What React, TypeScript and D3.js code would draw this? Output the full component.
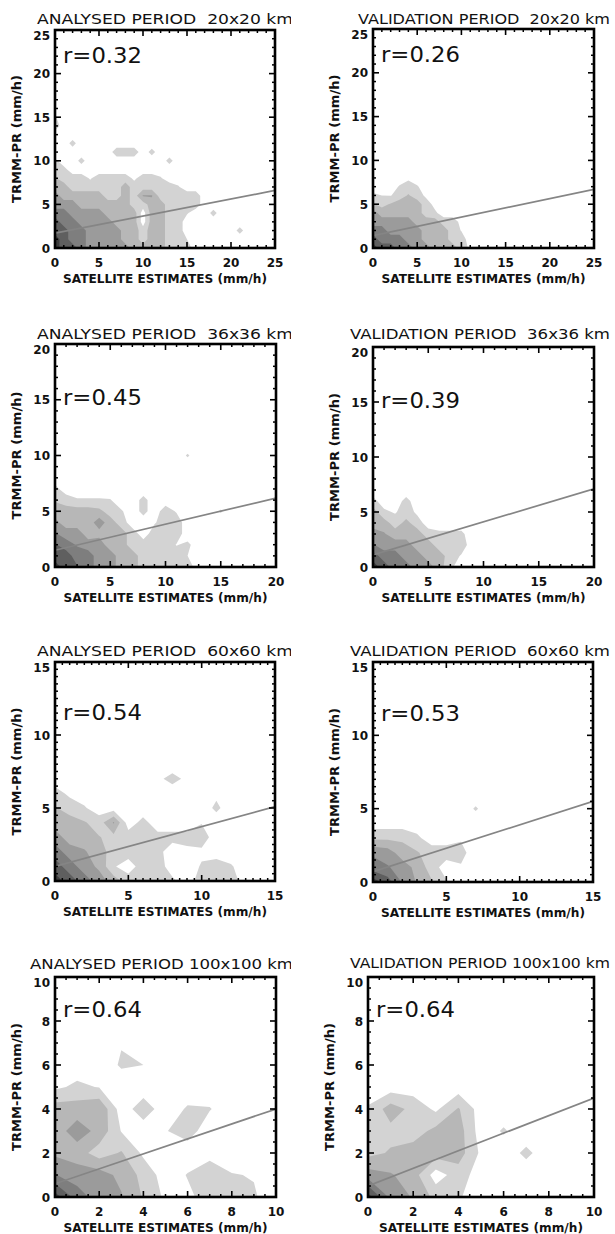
import React from "react";
import * as d3 from "d3";

// ---------- data ----------
const titles = [
  "ANALYSED PERIOD  20x20 km",
  "VALIDATION PERIOD  20x20 km",
  "ANALYSED PERIOD  36x36 km",
  "VALIDATION PERIOD  36x36 km",
  "ANALYSED PERIOD  60x60 km",
  "VALIDATION PERIOD  60x60 km",
  "ANALYSED PERIOD 100x100 km",
  "VALIDATION PERIOD 100x100 km",
];
const rValues = ["0.32", "0.26", "0.45", "0.39", "0.54", "0.53", "0.64", "0.64"];
const axisMax = [25, 25, 20, 20, 15, 15, 10, 10];
const majorStep = [5, 5, 5, 5, 5, 5, 2, 2];
const minorStep = [1, 1, 1, 1, 0.5, 0.5, 0.5, 0.5];
const intercepts = [1.7, 1.4, 1.5, 1.1, 1.0, 0.7, 0.6, 0.5];
const slopes = [0.196, 0.212, 0.234, 0.3, 0.273, 0.32, 0.34, 0.4];
const rLabelY = [21.2, 21.2, 14.5, 14.5, 11, 11, 8.2, 8.2];
const xLabel = "SATELLITE ESTIMATES (mm/h)";
const yLabel = "TRMM-PR (mm/h)";
const thresholds = [0.5, 1.5, 2.5, 3.5, 4.5, 5.5];

// density grids (1 mm/h bins), rows listed from top (highest y) down to y = 0
const grid1 = [
  [0.6],
  [1],
  [],
  [0, 0, 0.8],
  [0, 0, 0, 0, 0, 0, 0, 1, 1, 1, 0, 0.8],
  [0.7, 0, 0, 0.8, 0, 0, 0, 0, 0, 0, 0, 0, 0, 0.8],
  [1, 0.8],
  [1.6, 1, 1, 1, 0.4, 1, 1, 1, 1, 0.3, 1, 1, 0.6],
  [2, 2, 1, 1, 1, 1, 1, 1, 2, 1, 1, 1, 1, 1, 0.6],
  [3, 2, 2, 2, 2, 2, 1, 1, 2, 1, 2.6, 2.6, 1, 1, 1, 1, 1],
  [3, 3, 3, 2, 2, 2, 2, 2, 2, 1, 1, 2, 2, 1, 1, 1, 1],
  [4, 4, 3, 3, 3, 3, 2, 2, 2, 2, 0, 2, 2, 1, 1, 0.6, 0, 0, 0.8],
  [5, 4, 4, 3, 3, 3, 3, 2, 2, 2, 0, 2, 2, 1, 1],
  [5, 5, 4, 4, 3, 3, 3, 3, 2, 2, 1, 2, 2, 1, 1, 0, 0, 0, 0, 0, 0, 0.8],
  [6, 5, 4, 4, 3, 3, 3, 3, 2, 2, 1, 2, 2, 1, 1, 0.5],
  [6, 5, 5, 4, 3, 3, 3, 3, 3, 2, 2, 2, 2, 1, 1, 1],
];
const grid2 = [
  [0, 0, 0, 0, 0.3],
  [0, 0, 0, 0.6, 1, 0.6],
  [0.7, 0.5, 0.45, 1, 1.6, 1, 0.3],
  [1.6, 1.2, 1.6, 2, 2, 2, 1, 0.2],
  [3, 2, 2, 2, 2, 2, 1, 0.7],
  [3, 3, 3, 3, 3, 2, 2, 2, 1, 1, 0.2],
  [4, 4, 3, 3, 3, 3, 2, 2, 2, 1, 0.45],
  [5, 4, 4, 4, 3, 3, 2, 2, 2, 1, 1],
  [6, 5, 5, 4, 4, 3, 3, 2, 2, 2, 1, 0.3],
];
const grid3 = [
  [0, 0, 0, 0, 0, 0, 0, 0, 0, 0, 0, 0, 0.6],
  [],
  [],
  [0.8],
  [1.4, 1, 0.6, 0.6, 0.6, 0.55, 0, 0, 0.8],
  [2, 2, 2, 2, 1.8, 1, 0.6, 0, 0.8, 0, 1, 0.4, 0, 0, 0, 0.6],
  [2.8, 2, 2, 2, 3, 2, 1, 0, 0, 0.4, 1, 1],
  [3.6, 3, 3, 2, 2.2, 2, 2, 1, 0, 1, 1, 1],
  [4.6, 4, 3.4, 3, 3, 2, 2, 1, 1, 1, 1, 0.45, 0.7],
  [5, 5, 4, 4, 3, 3, 2, 2, 1, 1, 1, 1, 0.5],
  [6, 5, 4.6, 4, 3, 3, 2, 2, 1, 1, 1, 1, 1],
];
const grid4 = [
  [0.8, 0, 0, 0.8],
  [2, 0.7, 0.4, 1, 0.3],
  [2, 2, 1, 1.8, 1],
  [3, 2.6, 2, 2, 2, 1, 0.7, 0.7, 0.7],
  [3.6, 3, 3, 3, 2, 2, 1, 1, 1],
  [5, 4, 4, 3, 3, 2, 2, 1, 0.4],
  [6, 5, 4, 4, 3, 3, 2, 0.7],
];
const grid5 = [
  [0, 0, 0, 0, 0, 0, 0, 0.3, 0.8, 0.3],
  [0.9, 0.3, 0, 0, 0, 0, 0, 0, 0, 0, 0, 0.3],
  [1.6, 1, 0.6, 0, 0, 0, 0, 0, 0, 0, 0, 0.7],
  [2, 2, 1.6, 1, 2.6, 0, 0.8, 0, 0, 0, 0.45],
  [3, 2, 2, 1.55, 1.2, 1, 0.7, 0.8, 0.8, 0.8, 1],
  [4, 3, 2.6, 2, 1, 1, 1, 0.8, 0, 0.3, 0.3],
  [5, 4, 3, 2.3, 0.6, 0, 1, 1, 0, 0, 0.6, 1, 0.6],
  [6, 5, 4, 3, 2, 1, 1, 1, 0.7, 0, 1, 1, 1],
];
const grid6 = [
  [0, 0, 0, 0, 0, 0, 0, 0.6],
  [],
  [1.3, 1.3, 1.3, 0.7, 0, 0, 0.4],
  [3.3, 3, 2, 1.6, 1, 1, 0.8],
  [4, 3.6, 3, 2.2, 1, 0, 0.4],
  [6, 5, 3.4, 2.4, 1.6, 0.6],
];
const grid7 = [
  [0, 0, 0, 0.45, 0.2],
  [0, 0, 0, 0.6, 0.5],
  [0.3, 0.7, 0.45],
  [2, 2, 2.4, 0, 1, 0, 0.6, 0.55],
  [2, 3, 2.2, 0.45, 0, 0.45, 0.9],
  [2.3, 2, 1, 1.6, 0.3],
  [3.55, 3, 3, 2.2, 1.2, 0, 0.55, 1.4, 0.55, 0.45],
  [6, 4, 3, 2.6, 1.4, 0.3, 0.3, 0.9, 0.9, 0.6],
];
const grid8 = [
  [0.6, 2, 1.2, 0.3, 1.6],
  [1, 1.2, 1, 1.8, 2, 0, 0.6],
  [1.2, 1.6, 2, 2, 2, 0.3, 0, 0.7],
  [3, 2.6, 2, 0, 1],
  [6, 3.2, 2.4, 1.2, 0.6],
];
const grids = [grid1, grid2, grid3, grid4, grid5, grid6, grid7, grid8];

// ---------- layout / style ----------
const frames = [
  { x: 55, y: 30, w: 220, h: 218 },
  { x: 373, y: 29, w: 221, h: 219 },
  { x: 55, y: 344, w: 221, h: 223 },
  { x: 373, y: 347, w: 221, h: 220 },
  { x: 55, y: 662, w: 220, h: 219 },
  { x: 373, y: 662, w: 220, h: 220 },
  { x: 55, y: 977, w: 221, h: 220 },
  { x: 368, y: 977, w: 226, h: 220 },
];
const titlePos = [
  { x: 37, y: 24, len: 256 },
  { x: 358, y: 24, len: 252 },
  { x: 37, y: 339, len: 256 },
  { x: 350, y: 339, len: 260 },
  { x: 37, y: 656, len: 256 },
  { x: 350, y: 656, len: 260 },
  { x: 30, y: 969, len: 263 },
  { x: 350, y: 968, len: 260 },
];
const levelColors = ["#d3d3d3", "#b7b7b7", "#9b9b9b", "#7e7e7e", "#5f5f5f", "#3d3d3d"];
const FONT = "'DejaVu Sans', 'Liberation Sans', sans-serif";

function Panel({ i }: { i: number }) {
  const f = frames[i];
  const max = axisMax[i];
  const x = d3.scaleLinear().domain([0, max]).range([f.x, f.x + f.w]);
  const y = d3.scaleLinear().domain([0, max]).range([f.y + f.h, f.y]);
  const rows = grids[i].slice().reverse();
  const nx = max + 2;
  const ny = rows.length + 1;
  const values = new Array(nx * ny).fill(0);
  rows.forEach((row, j) => row.forEach((v, k) => { values[j * nx + k] = v; }));
  const contours = d3.contours().size([nx, ny]).thresholds(thresholds)(values);
  const toPath = (mp: any) =>
    mp.coordinates
      .map((poly: any) =>
        poly
          .map((ring: any) =>
            "M" + ring.map(([cx, cy]: number[]) => `${x(cx - 0.5).toFixed(2)},${y(cy - 0.5).toFixed(2)}`).join("L") + "Z"
          )
          .join("")
      )
      .join("");

  const majors = d3.range(0, max + 1e-9, majorStep[i]);
  const minors = d3.range(0, max + 1e-9, minorStep[i]).filter(
    (v) => Math.abs(v / majorStep[i] - Math.round(v / majorStep[i])) > 1e-6
  );
  const clipId = `clip${i}`;
  const tclipId = `tclip${i}`;
  const left = i % 2 === 0;
  const b = f.y + f.h;
  const tp = titlePos[i];

  return (
    <g>
      <defs>
        <clipPath id={clipId}>
          <rect x={f.x} y={f.y} width={f.w} height={f.h} />
        </clipPath>
        <clipPath id={tclipId}>
          <rect x={left ? 0 : 300} y={tp.y - 20} width={left ? 291 : 315} height={30} />
        </clipPath>
      </defs>
      <g clipPath={`url(#${clipId})`}>
        {contours.map((c, k) => (
          <path key={k} d={toPath(c)} fill={levelColors[k]} fillRule="evenodd" stroke="none" />
        ))}
        <line
          x1={x(0)}
          y1={y(intercepts[i])}
          x2={x(max)}
          y2={y(intercepts[i] + slopes[i] * max)}
          stroke="#858585"
          strokeWidth={1.7}
        />
      </g>
      {/* ticks */}
      {majors.map((v) => (
        <g key={"M" + v} stroke="#000" strokeWidth={1.6}>
          <line x1={x(v)} x2={x(v)} y1={b} y2={b - 6} />
          <line x1={x(v)} x2={x(v)} y1={f.y} y2={f.y + 6} />
          <line x1={f.x} x2={f.x + 6} y1={y(v)} y2={y(v)} />
          <line x1={f.x + f.w} x2={f.x + f.w - 6} y1={y(v)} y2={y(v)} />
        </g>
      ))}
      {minors.map((v) => (
        <g key={"m" + v} stroke="#000" strokeWidth={1.5}>
          <line x1={x(v)} x2={x(v)} y1={b} y2={b - 3} />
          <line x1={x(v)} x2={x(v)} y1={f.y} y2={f.y + 3} />
          <line x1={f.x} x2={f.x + 3} y1={y(v)} y2={y(v)} />
          <line x1={f.x + f.w} x2={f.x + f.w - 3} y1={y(v)} y2={y(v)} />
        </g>
      ))}
      <rect x={f.x} y={f.y} width={f.w} height={f.h} fill="none" stroke="#000" strokeWidth={2.6} />
      {/* tick labels */}
      {majors.map((v) => (
        <text
          key={"xl" + v}
          x={x(v)}
          y={b + 19}
          textAnchor="middle"
          fontFamily={FONT}
          fontWeight="bold"
          fontSize={12}
          fill="#111"
        >
          {v}
        </text>
      ))}
      {majors.map((v) => (
        <text
          key={"yl" + v}
          x={f.x - 5}
          y={Math.max(y(v) + 4.5, f.y + 10)}
          textAnchor="end"
          fontFamily={FONT}
          fontWeight="bold"
          fontSize={12}
          fill="#111"
        >
          {v}
        </text>
      ))}
      {/* axis titles */}
      <text
        x={f.x + f.w / 2}
        y={b + 35}
        textAnchor="middle"
        fontFamily={FONT}
        fontWeight="bold"
        fontSize={13}
        textLength={204}
        lengthAdjust="spacingAndGlyphs"
        fill="#111"
      >
        {xLabel}
      </text>
      <text
        transform={`translate(${f.x - 34},${f.y + f.h / 2}) rotate(-90)`}
        textAnchor="middle"
        fontFamily={FONT}
        fontWeight="bold"
        fontSize={12}
        textLength={128}
        lengthAdjust="spacingAndGlyphs"
        fill="#111"
      >
        {yLabel}
      </text>
      {/* panel title */}
      <g clipPath={`url(#${tclipId})`}>
        <text
          x={tp.x}
          y={tp.y}
          fontFamily={FONT}
          fontSize={14}
          textLength={tp.len}
          lengthAdjust="spacingAndGlyphs"
          style={{ whiteSpace: "pre" }}
          fill="#111"
        >
          {titles[i]}
        </text>
      </g>
      {/* correlation */}
      <text
        x={f.x + 8}
        y={y(rLabelY[i])}
        fontFamily={FONT}
        fontSize={21}
        textLength={79}
        lengthAdjust="spacingAndGlyphs"
        fill="#111"
      >
        {`r=${rValues[i]}`}
      </text>
    </g>
  );
}

export default function App() {
  return (
    <svg
      width={615}
      height={1234}
      viewBox="0 0 615 1234"
      style={{ position: "absolute", left: 0, top: 0, background: "#fff" }}
    >
      <rect x={0} y={0} width={615} height={1234} fill="#fff" />
      {titles.map((_, i) => (
        <Panel key={i} i={i} />
      ))}
    </svg>
  );
}
